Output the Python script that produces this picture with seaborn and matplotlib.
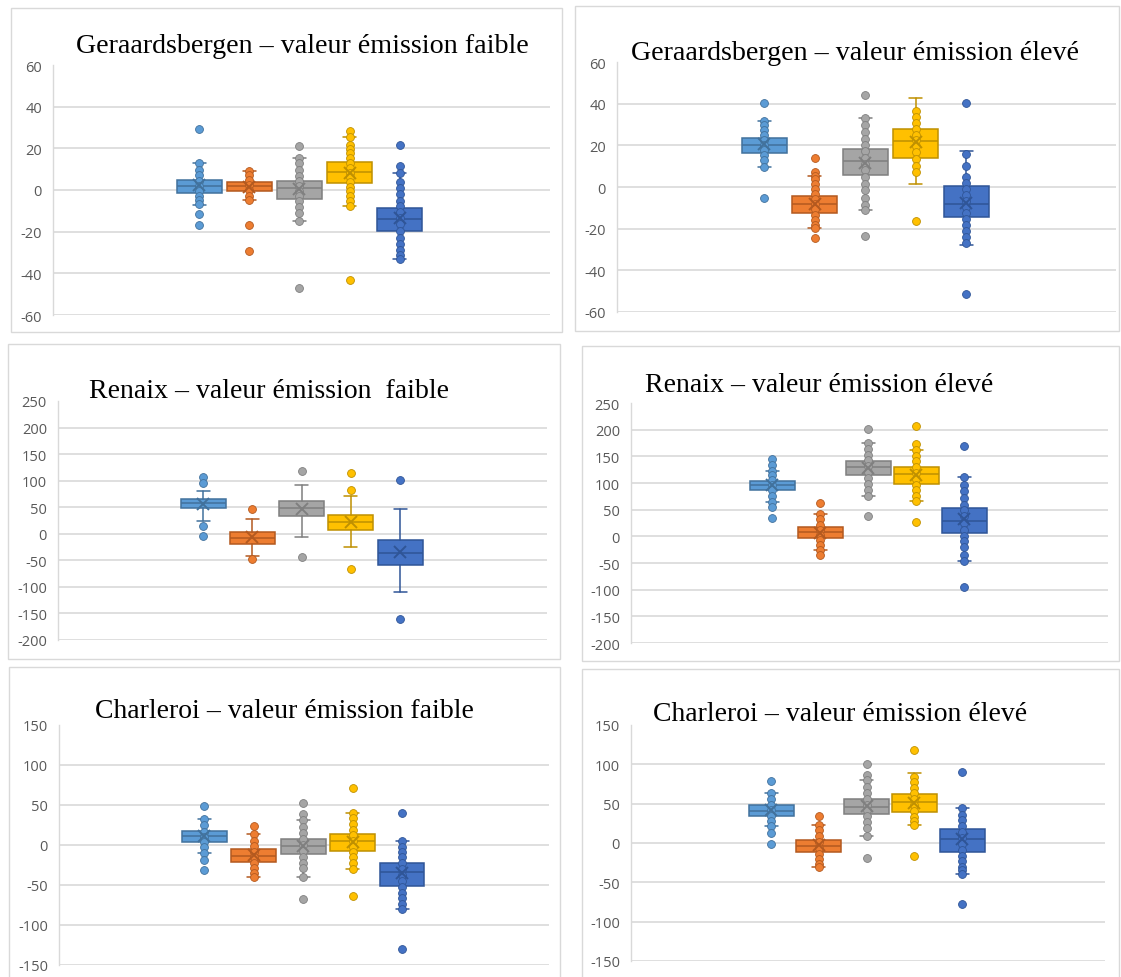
'''Boîtes à moustaches des émissions (Geraardsbergen, Renaix, Charleroi)'''

import numpy as np
import matplotlib.pyplot as plt
import matplotlib.patches as mpatches
import seaborn as sns

#1 DONNEES
titres = ["Geraardsbergen – valeur émission faible",
          "Geraardsbergen – valeur émission élevé",
          "Renaix – valeur émission  faible",
          "Renaix – valeur émission élevé",
          "Charleroi – valeur émission faible",
          "Charleroi – valeur émission élevé"]

# une boîte = (moustache basse, Q1, médiane, Q3, moustache haute, moyenne)
ger_faible_stats = [(-7.0, -1.3, 2.0, 4.6, 12.8, 2.3),
                    (-4.8, -0.6, 1.8, 3.7, 9.3, 1.5),
                    (-14.7, -4.5, 0.8, 4.2, 15.4, 0.5),
                    (-7.5, 3.5, 8.5, 13.3, 25.6, 8.3),
                    (-33.3, -19.7, -14.1, -8.5, 8.2, -13.5)]
ger_faible_pts = [[29.3, 12.8, 9.6, 7.2, 4.5, 2.0, -0.5, -2.7, -4.8, -6.7, -11.5, -16.8],
                  [9.3, 7.2, 5.0, 2.4, 0.0, -2.7, -4.8, -16.8, -29.1],
                  [21.0, 15.4, 12.8, 9.6, 6.9, 4.5, 2.1, -0.3, -2.7, -5.4, -8.3, -11.2, -14.7, -47.2],
                  [28.5, 25.6, 21.8, 19.7, 17.6, 15.2, 12.8, 10.6, 8.3, 6.1, 3.7, 1.6, -0.6, -2.9,
                   -5.1, -7.5, -43.0],
                  [21.6, 11.5, 8.2, 3.8, 1.1, -2.1, -5.3, -7.7, -10.4, -13.3, -16.5, -19.7, -22.9,
                   -26.1, -28.8, -31.4, -33.3]]

ger_eleve_stats = [(9.4, 16.3, 20.3, 23.7, 31.8, 20.5),
                   (-19.7, -12.3, -8.0, -4.3, 5.3, -8.0),
                   (-11.2, 5.6, 12.3, 18.4, 33.1, 11.5),
                   (1.6, 14.1, 21.9, 28.0, 42.9, 21.5),
                   (-27.7, -14.2, -8.3, 0.3, 17.3, -7.5)]
ger_eleve_pts = [[40.5, 31.8, 29.6, 27.2, 24.8, 22.4, 20.0, 17.6, 15.2, 12.8, 9.4, -5.3],
                 [13.9, 7.2, 5.3, 3.7, 1.6, -0.8, -3.2, -5.6, -8.0, -10.4, -13.3, -16.0, -18.4,
                  -19.7, -24.3],
                 [44.3, 33.1, 29.9, 26.4, 23.2, 20.3, 17.1, 13.9, 11.2, 8.0, 4.8, 1.6, -1.6, -5.3,
                  -8.8, -11.2, -23.7],
                 [36.3, 33.6, 30.7, 28.0, 25.1, 22.4, 19.7, 16.8, 13.3, 10.1, 7.2, -16.5],
                 [40.5, 16.0, 10.1, 4.8, 2.1, -0.8, -3.7, -6.9, -9.6, -12.3, -15.5, -18.4, -21.3,
                  -24.0, -26.7, -51.2]]

ren_faible_stats = [(24.4, 48.1, 57.5, 65.6, 81.3, 57.0),
                    (-42.5, -18.8, -8.1, 3.1, 27.5, -7.0),
                    (-5.6, 33.8, 48.0, 61.3, 92.5, 47.0),
                    (-24.4, 6.9, 23.1, 35.6, 71.3, 22.0),
                    (-110.0, -58.1, -36.3, -11.9, 46.3, -35.0)]
ren_faible_pts = [[106.0, 95.0, 15.0, -3.8],
                  [46.9, -47.5],
                  [118.0, -43.8],
                  [115.0, 81.9, -65.6],
                  [101.0, -160.0]]

ren_eleve_stats = [(63.8, 87.5, 95.6, 104.4, 121.9, 96.0),
                   (-26.3, -2.5, 7.5, 17.5, 42.5, 7.0),
                   (75.0, 114.4, 130.0, 141.9, 175.0, 128.0),
                   (65.6, 98.8, 116.9, 130.0, 162.5, 115.0),
                   (-45.6, 6.3, 29.4, 53.1, 111.3, 32.0)]
ren_eleve_pts = [[145.6, 134.4, 121.9, 115.6, 106.0, 97.0, 86.0, 76.0, 63.8, 55.0, 34.4],
                 [62.5, 42.5, 32.5, 21.9, 12.5, 3.1, -6.3, -15.6, -26.3, -34.4],
                 [201.0, 175.0, 164.4, 153.0, 142.5, 131.0, 120.6, 109.4, 98.8, 87.5, 75.0, 37.5],
                 [207.5, 173.8, 162.5, 151.0, 140.6, 130.0, 118.8, 107.5, 96.9, 86.3, 75.0, 65.6,
                  26.3],
                 [168.8, 111.3, 96.9, 84.4, 71.9, 59.4, 48.8, 37.5, 25.0, 12.5, 0.0, -9.4, -20.6,
                  -34.4, -45.6, -95.0]]

cha_faible_stats = [(-10.4, 3.8, 11.3, 17.9, 32.5, 11.0),
                    (-40.4, -20.8, -13.8, -5.4, 13.8, -12.0),
                    (-39.6, -11.7, -1.3, 7.1, 31.3, -1.0),
                    (-30.4, -7.5, 5.4, 13.8, 40.4, 4.0),
                    (-79.6, -51.3, -33.3, -22.1, 5.4, -35.0)]
cha_faible_pts = [[48.8, 32.5, 25.0, 16.7, 10.4, 4.2, -2.1, -10.4, -18.8, -31.7],
                  [23.8, 13.8, 5.4, -1.3, -8.3, -15.4, -22.9, -29.2, -35.4, -40.4],
                  [52.1, 38.3, 31.3, 22.1, 14.6, 7.1, 0.0, -7.1, -14.6, -22.1, -29.2, -39.6, -67.9],
                  [70.8, 40.4, 33.3, 26.3, 18.8, 12.5, 5.4, -2.1, -8.3, -15.4, -22.9, -30.4, -63.8],
                  [39.6, 5.4, -2.1, -8.3, -15.4, -22.9, -30.4, -37.5, -44.6, -52.1, -59.6, -66.7,
                   -73.8, -79.6, -130.4]]

cha_eleve_stats = [(21.3, 34.0, 41.3, 48.9, 63.8, 42.0),
                   (-30.6, -11.5, -4.3, 4.3, 23.4, -3.0),
                   (9.4, 37.4, 46.0, 56.2, 80.0, 47.0),
                   (22.6, 39.6, 52.3, 61.7, 88.5, 51.0),
                   (-40.0, -11.5, 5.1, 17.9, 45.1, 5.0)]
cha_eleve_pts = [[78.7, 63.8, 56.2, 48.9, 41.7, 34.9, 27.7, 21.3, 12.8, -1.3],
                 [34.0, 23.4, 16.2, 8.5, 0.9, -6.4, -13.6, -20.4, -26.4, -30.6],
                 [100.0, 86.8, 80.0, 71.5, 63.8, 56.2, 48.9, 41.7, 34.0, 26.4, 19.1, 9.4, -19.6],
                 [117.9, 84.3, 77.4, 70.2, 63.0, 55.3, 48.1, 40.4, 33.2, 27.7, 22.6, -16.2],
                 [90.6, 45.1, 36.2, 28.9, 21.3, 13.6, 6.4, -0.9, -8.5, -16.2, -23.4, -30.6, -34.9,
                  -40.0, -77.9]]

graduations = [range(-60, 61, 20), range(-60, 61, 20),
               range(-200, 251, 50), range(-200, 251, 50),
               range(-150, 151, 50), range(-150, 151, 50)]

tous_stats = [ger_faible_stats, ger_eleve_stats, ren_faible_stats,
              ren_eleve_stats, cha_faible_stats, cha_eleve_stats]
tous_pts = [ger_faible_pts, ger_eleve_pts, ren_faible_pts,
            ren_eleve_pts, cha_faible_pts, cha_eleve_pts]

#2 MISE EN PAGE (en pixels de l'image)
W, H = 1121, 978
axes_px = [(53, 550, 66, 316), (617, 1116, 63, 313), (58, 547, 402, 641),
           (631, 1108, 404, 644), (59, 549, 726, 966), (631, 1105, 726, 962)]
box0_px = [199, 764, 203, 772, 204, 771]
ecart_px = [50.2, 50.5, 49.3, 48.0, 49.5, 47.8]
cadres_px = [(11, 562, 9, 333), (575, 1119, 7, 332), (8, 560, 345, 660),
             (582, 1119, 347, 662), (9, 560, 668, 990), (582, 1119, 670, 990)]
titres_px = [(302, 53, 454), (855, 60, 448), (269, 398, 359),
             (819, 392, 348), (284, 718, 378), (840, 721, 374)]

couleurs = ['#5B9BD5', '#ED7D31', '#A5A5A5', '#FFC000', '#4472C4']
bordures = ['#41719C', '#B3591F', '#7F7F7F', '#BF9000', '#2F5597']

sns.set_theme(style='white')
plt.rcParams['font.family'] = ['Open Sans', 'DejaVu Sans']
plt.rcParams['axes.unicode_minus'] = False

fig = plt.figure(figsize=(W / 100, H / 100), dpi=100)
fig.patch.set_facecolor('white')

textes = []
for k in range(6):
    x0, x1, yt, yb = axes_px[k]
    ax = fig.add_axes([x0 / W, 1 - yb / H, (x1 - x0) / W, (yb - yt) / H])
    ax.set_facecolor('none')
    ecart = ecart_px[k]
    for i, st in enumerate(tous_stats[k]):
        bas, q1, med, q3, haut, moy = st
        ax.bxp([dict(whislo=bas, q1=q1, med=med, q3=q3, whishi=haut, mean=moy, fliers=[])],
               positions=[i], widths=45 / ecart, capwidths=13 / ecart,
               showmeans=True, showfliers=False, patch_artist=True, manage_ticks=False,
               boxprops=dict(facecolor=couleurs[i], edgecolor=bordures[i], linewidth=1.1),
               medianprops=dict(color=bordures[i], linewidth=1.1),
               whiskerprops=dict(color=bordures[i], linewidth=1.1),
               capprops=dict(color=bordures[i], linewidth=1.1),
               meanprops=dict(marker='x', markeredgecolor=bordures[i], markersize=8.5,
                              markeredgewidth=1.4, zorder=5))
        pts = tous_pts[k][i]
        sns.scatterplot(x=np.full(len(pts), i), y=pts, color=couleurs[i],
                        edgecolor=bordures[i], linewidth=0.6, s=32, ax=ax,
                        zorder=4, clip_on=False, legend=False)

    ticks = list(graduations[k])
    ax.set_ylim(ticks[0], ticks[-1])
    ax.set_xlim((x0 - box0_px[k]) / ecart, (x1 - box0_px[k]) / ecart)
    ax.set_yticks(ticks)
    ax.set_yticklabels([str(t) for t in ticks])
    ax.set_xticks([])
    ax.set_xlabel('')
    ax.set_ylabel('')
    ax.tick_params(axis='y', length=0, pad=8, labelsize=10.5, labelcolor='#595959')
    ax.grid(axis='y', color='#D9D9D9', linewidth=1.2, zorder=0)
    ax.set_axisbelow(True)
    ax.get_ygridlines()[-1].set_visible(False)
    for cote in ['top', 'right', 'bottom']:
        ax.spines[cote].set_visible(False)
    ax.spines['left'].set_color('#D9D9D9')
    ax.spines['left'].set_linewidth(1)

    # cadre gris autour de chaque graphique
    c0, c1, ct, cb = cadres_px[k]
    fig.add_artist(mpatches.Rectangle((c0 / W, 1 - cb / H), (c1 - c0) / W, (cb - ct) / H,
                                      transform=fig.transFigure, fill=False,
                                      edgecolor='#D9D9D9', linewidth=1))

    tx, ty, _ = titres_px[k]
    textes.append(fig.text(tx / W, 1 - ty / H, titres[k], ha='center', va='baseline',
                           fontsize=18, color='black', family=['Liberation Serif', 'DejaVu Serif']))

# ajuster la taille des titres à leur largeur dans l'image
fig.canvas.draw()
renderer = fig.canvas.get_renderer()
for t, (_, _, largeur) in zip(textes, titres_px):
    w = t.get_window_extent(renderer).width
    t.set_fontsize(t.get_fontsize() * largeur / w)

fig.savefig('out.png', dpi=100)
